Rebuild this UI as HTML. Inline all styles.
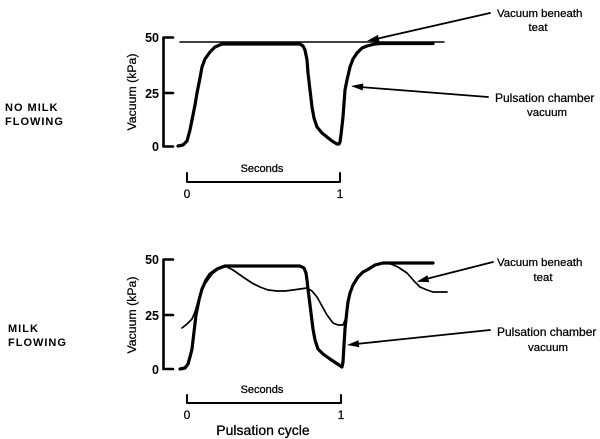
<!DOCTYPE html>
<html><head><meta charset="utf-8"><style>
html,body{margin:0;padding:0;background:#fff;}
svg{display:block;}
text{font-family:"Liberation Sans",Arial,sans-serif;fill:#000;}
</style></head><body>
<svg width="600" height="439" viewBox="0 0 600 439" xmlns="http://www.w3.org/2000/svg">
<g fill="none" stroke="#000" stroke-linejoin="round" stroke-linecap="round">
<!-- Top axis -->
<path d="M173,37.5 H163.5 V146.5 H173 M163.5,93 H173" stroke-width="2.6"/>
<!-- thin top line -->
<line x1="180" y1="42" x2="444" y2="42" stroke-width="1.6"/>
<!-- top thick -->
<polyline stroke-width="3.2" points="178,146 183,145 187,141 190,130 192,120 195,105 197,93 200,78 202,67 205,59 210,52 215,47 222,44 300,44 303,46 305,50 307,60 308,73 310,90 312,107 314,118 317,127 322,133 327,137 332,141 337,144 339,144 340,142 341,135 343,117 345,90 347,80 350,67 353,59 357,53 362,48 367,46 375,44 380,43.5 433,43.5"/>
<!-- top bracket -->
<path d="M187,173 V182 H340 V173" stroke-width="2"/>

<!-- Bottom axis -->
<path d="M173,259.5 H163.5 V369 H173 M163.5,315 H173" stroke-width="2.6"/>
<!-- bottom thin -->
<polyline stroke-width="1.7" points="182,328 187,324 192,319 195,312 197,305 200,295 205,284 212,274 220,268 226,266.5 233,270 243,277 252,283 260,287 268,290 277,291 285,291 293,290 300,289 307,288 312,291 317,297 322,306 327,315 333,323 338,325 343,325 346,318 347,312"/>
<polyline stroke-width="1.7" points="385,263 391,264 398,267 407,273 414,281 420,287 427,290 433,292 447,292"/>
<!-- bottom thick -->
<polyline stroke-width="3.2" points="180,369 185,368 188,364 190,357 192,349 194,332 196,315 199,300 202,289 206,280 210,274 217,269 225,266 300,266 304,268 306,273 307,280 308,289 310,305 313,329 315,340 318,349 323,354 330,359 336,363 342,367 343,362 344,345 345,329 347,310 348,302 350,293 353,285 358,277 363,272 367,270 375,265 383,263 433,263"/>
<!-- bottom bracket -->
<path d="M187,395 V403 H341 V395" stroke-width="2"/>

<!-- arrows -->
<line x1="490" y1="13" x2="376" y2="39" stroke-width="1.8"/>
<line x1="488" y1="97" x2="360" y2="87" stroke-width="1.8"/>
<line x1="493" y1="262" x2="426" y2="279" stroke-width="1.8"/>
<line x1="490" y1="330" x2="356" y2="344" stroke-width="1.8"/>
</g>
<g fill="#000">
<polygon points="367,41 379.5,41.7 377.9,34.9"/>
<polygon points="351,86 363.3,83.5 362.7,90.5"/>
<polygon points="416.7,281.7 429.2,282.1 427.4,275.3"/>
<polygon points="347,345 359.3,347.2 358.5,340.3"/>
</g>

<!-- tick labels -->
<g font-size="12.5" font-weight="bold" text-anchor="end">
<text x="159" y="42">50</text>
<text x="159" y="98">25</text>
<text x="159" y="151">0</text>
<text x="159" y="264">50</text>
<text x="159" y="320">25</text>
<text x="159" y="374">0</text>
</g>
<text transform="translate(136,92) rotate(-90)" font-size="12.3" text-anchor="middle" stroke="#000" stroke-width="0.25">Vacuum (kPa)</text>
<text transform="translate(136,315) rotate(-90)" font-size="12.3" text-anchor="middle" stroke="#000" stroke-width="0.25">Vacuum (kPa)</text>

<g font-size="11" font-weight="bold" letter-spacing="1">
<text x="5" y="111">NO MILK</text>
<text x="5" y="125">FLOWING</text>
<text x="8" y="332">MILK</text>
<text x="8" y="346">FLOWING</text>
</g>

<g font-size="11" text-anchor="middle" stroke="#000" stroke-width="0.25">
<text x="262" y="172">Seconds</text>
<text x="262" y="393">Seconds</text>
</g>
<g font-size="12" text-anchor="middle" stroke="#000" stroke-width="0.25">
<text x="187" y="198">0</text>
<text x="340" y="198">1</text>
<text x="187" y="419">0</text>
<text x="341" y="419">1</text>
</g>
<text x="263" y="435" font-size="14" text-anchor="middle" stroke="#000" stroke-width="0.3">Pulsation cycle</text>

<g font-size="11.4" stroke="#000" stroke-width="0.25">
<text x="497" y="17">Vacuum beneath</text>
<text x="538" y="31" text-anchor="middle">teat</text>
<text x="495" y="102" font-size="12">Pulsation chamber</text>
<text x="547" y="116" text-anchor="middle">vacuum</text>
<text x="497" y="266">Vacuum beneath</text>
<text x="543" y="281" text-anchor="middle">teat</text>
<text x="497" y="336" font-size="12">Pulsation chamber</text>
<text x="548" y="351" text-anchor="middle">vacuum</text>
</g>
</svg>
</body></html>
